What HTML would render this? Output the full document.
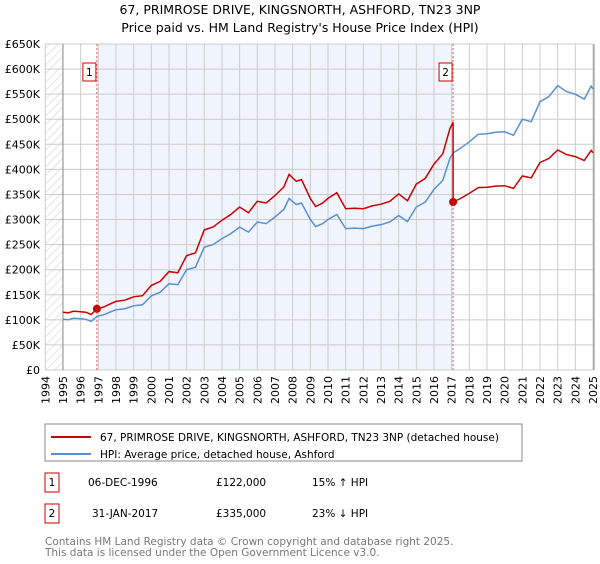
<!DOCTYPE html>
<html><head><meta charset="utf-8"><style>
body{margin:0;background:#fff;font-family:"DejaVu Sans","Liberation Sans",sans-serif;}
svg text{font-family:"DejaVu Sans","Liberation Sans",sans-serif;}
</style></head><body>
<svg id="chart" width="600" height="560" xmlns="http://www.w3.org/2000/svg">
<defs><pattern id="hatch" width="6" height="6" patternUnits="userSpaceOnUse" patternTransform="rotate(45)"><line x1="0" y1="0" x2="0" y2="6" stroke="#ccc" stroke-width="1"/></pattern></defs>
<text x="300" y="14" text-anchor="middle" font-size="12.5">67, PRIMROSE DRIVE, KINGSNORTH, ASHFORD, TN23 3NP</text>
<text x="300" y="32" text-anchor="middle" font-size="12.5">Price paid vs. HM Land Registry's House Price Index (HPI)</text>
<g id="plot"></g>
<g>
<rect x="45" y="424" width="477" height="37" fill="#fff" stroke="#888"/>
<line x1="51" y1="437" x2="91" y2="437" stroke="#cc0000" stroke-width="2"/>
<text x="100" y="441" font-size="10.5">67, PRIMROSE DRIVE, KINGSNORTH, ASHFORD, TN23 3NP (detached house)</text>
<line x1="51" y1="454" x2="91" y2="454" stroke="#5b8fd0" stroke-width="2"/>
<text x="100" y="458" font-size="10.5">HPI: Average price, detached house, Ashford</text>
</g>
<g font-size="10.5">
<rect x="45" y="473" width="14" height="19" fill="#fff" stroke="#cc0000"/>
<text x="52" y="486" text-anchor="middle">1</text>
<text x="88" y="486">06-DEC-1996</text><text x="216" y="486">£122,000</text><text x="312" y="486">15% ↑ HPI</text>
</g>
<g font-size="10.5">
<rect x="45" y="504" width="14" height="19" fill="#fff" stroke="#cc0000"/>
<text x="52" y="517" text-anchor="middle">2</text>
<text x="92" y="517">31-JAN-2017</text><text x="216" y="517">£335,000</text><text x="312" y="517">23% ↓ HPI</text>
</g>
<text x="45" y="545" font-size="10.5" fill="#777">Contains HM Land Registry data © Crown copyright and database right 2025.</text>
<text x="45" y="556" font-size="10.5" fill="#777">This data is licensed under the Open Government Licence v3.0.</text>
</svg>
<script>
const yTicks=[0,50000,100000,150000,200000,250000,300000,350000,400000,450000,500000,550000,600000,650000];
const yTickLabels=["£0","£50K","£100K","£150K","£200K","£250K","£300K","£350K","£400K","£450K","£500K","£550K","£600K","£650K"];
const xYears=[1994,1995,1996,1997,1998,1999,2000,2001,2002,2003,2004,2005,2006,2007,2008,2009,2010,2011,2012,2013,2014,2015,2016,2017,2018,2019,2020,2021,2022,2023,2024,2025];
const hpiDates=[1995,1995.3,1995.6,1996,1996.3,1996.6,1996.92,1997.3,1997.7,1998,1998.5,1999,1999.5,2000,2000.5,2001,2001.5,2002,2002.5,2003,2003.5,2004,2004.5,2005,2005.5,2006,2006.5,2007,2007.5,2007.8,2008.2,2008.5,2009,2009.3,2009.7,2010,2010.5,2011,2011.5,2012,2012.5,2013,2013.5,2014,2014.5,2015,2015.5,2016,2016.5,2016.9,2017.08,2017.5,2018,2018.5,2019,2019.5,2020,2020.5,2021,2021.5,2022,2022.5,2023,2023.5,2024,2024.5,2024.9,2025];
const hpiValues=[101000,100000,103000,102000,101000,97000,107000,110000,116000,120000,122000,128000,130000,148000,155000,172000,170000,200000,205000,245000,250000,262000,272000,285000,275000,295000,292000,305000,320000,342000,330000,333000,300000,286000,292000,300000,310000,282000,283000,282000,287000,290000,295000,308000,296000,325000,335000,360000,378000,422000,433000,442000,455000,470000,471000,474000,475000,468000,500000,495000,535000,545000,567000,555000,550000,540000,566000,560000];
const sale1Date=1996.92, sale1Price=122000;
const sale2Date=2017.08, sale2Price=335000;
const NS="http://www.w3.org/2000/svg";
const plot=document.getElementById('plot');
const X0=45.3,X1=593,Y0=370,Y1=44;
const xs=y=>X0+(y-1994)/(2025-1994)*(X1-X0);
const ys=v=>Y0-v/650000*(Y0-Y1);
function mk(t,a){const e=document.createElementNS(NS,t);for(const k in a)e.setAttribute(k,a[k]);plot.appendChild(e);return e;}
let e;
e=mk('rect',{x:X0,y:Y1,width:xs(1995)-X0,height:Y0-Y1,fill:'url(#hatch)'});


e=mk('rect',{x:xs(sale1Date),y:Y1,width:xs(sale2Date)-xs(sale1Date),height:Y0-Y1,fill:'#f0f4fd'});


yTicks.forEach((v,i)=>{
 e=mk('line',{x1:X0,x2:X1,y1:ys(v),y2:ys(v),stroke:'#ccc'});
 
 
 e=mk('text',{x:40,y:ys(v)+4,'text-anchor':'end','font-size':'11'});e.textContent=yTickLabels[i];
 
 
});
xYears.forEach(yr=>{
 e=mk('line',{x1:xs(yr),x2:xs(yr),y1:Y1,y2:Y0,stroke:'#ccc'});
 
 
 e=mk('text',{x:0,y:0,'text-anchor':'end','font-size':'11',transform:`translate(${xs(yr)+4},376) rotate(-90)`});e.textContent=yr;
 
 
});
e=mk('line',{x1:xs(1995),x2:xs(1995),y1:Y1,y2:Y0,stroke:'#888'});


e=mk('line',{x1:X1+1,x2:X1+1,y1:Y1,y2:Y0,stroke:'#888'});


[[sale1Date,'1'],[sale2Date,'2']].forEach(([d,l])=>{
 e=mk('line',{x1:xs(d),x2:xs(d),y1:Y1,y2:Y0,stroke:'#e06060','stroke-dasharray':'2,2'});
 
 
 e=mk('rect',{x:xs(d)-14,y:63,width:13,height:18,fill:'#fff',stroke:'#cc0000'});
 
 
 e=mk('text',{x:xs(d)-7.5,y:76,'text-anchor':'middle','font-size':'10.5'});e.textContent=l;
 
 
});
function interp(d){for(let i=1;i<hpiDates.length;i++){if(d<=hpiDates[i]){const t=(d-hpiDates[i-1])/(hpiDates[i]-hpiDates[i-1]);return hpiValues[i-1]+t*(hpiValues[i]-hpiValues[i-1]);}}return hpiValues[hpiValues.length-1];}
const f1=sale1Price/interp(sale1Date), f2=sale2Price/interp(sale2Date);
let ph=hpiDates.map((d,i)=>(i?'L':'M')+xs(d).toFixed(1)+','+ys(hpiValues[i]).toFixed(1)).join('');
e=mk('path',{d:ph,fill:'none',stroke:'#5b8fd0','stroke-width':1.5});


let pts=[];
hpiDates.forEach((d,i)=>{if(d<sale2Date)pts.push([d,hpiValues[i]*f1]);});
pts.push([sale2Date,interp(sale2Date)*f1]);pts.push([sale2Date,sale2Price]);
hpiDates.forEach((d,i)=>{if(d>sale2Date)pts.push([d,hpiValues[i]*f2]);});
e=mk('path',{d:pts.map((p,i)=>(i?'L':'M')+xs(p[0]).toFixed(1)+','+ys(p[1]).toFixed(1)).join(''),fill:'none',stroke:'#cc0000','stroke-width':1.5});


[[sale1Date,sale1Price],[sale2Date,sale2Price]].forEach(([d,v])=>{
 e=mk('circle',{cx:xs(d),cy:ys(v),r:4,fill:'#cc0000'});
 
 
});
</script>
</body></html>
